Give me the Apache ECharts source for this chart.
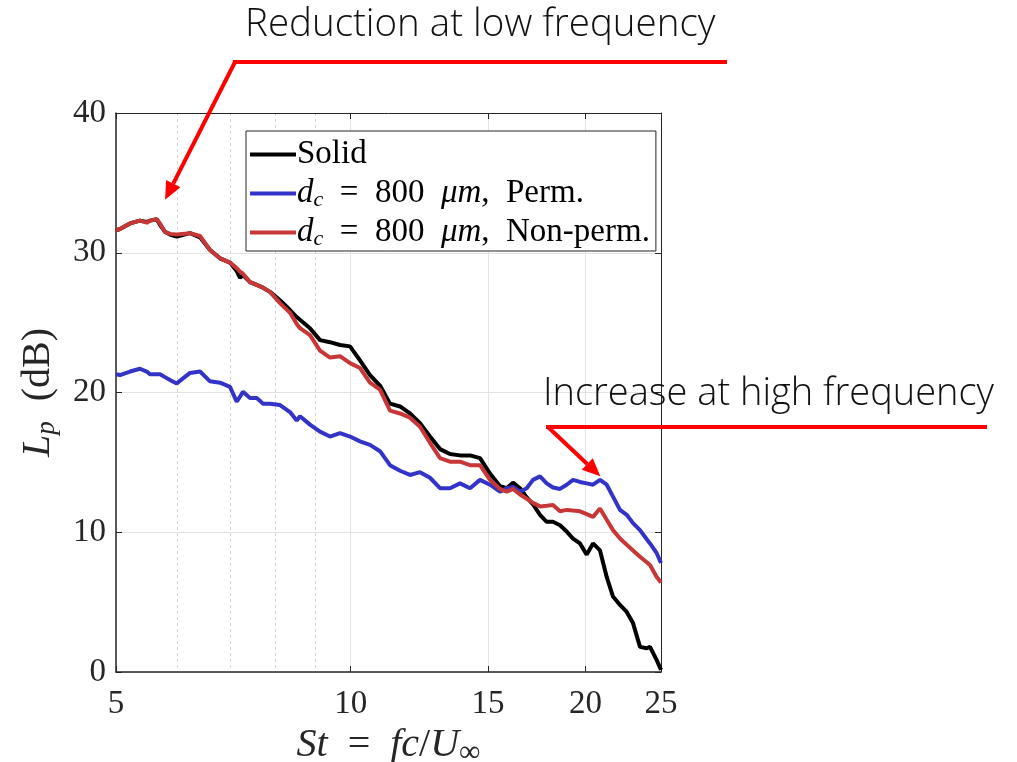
<!DOCTYPE html>
<html><head><meta charset="utf-8">
<script src="https://cdn.jsdelivr.net/npm/echarts@6/dist/echarts.min.js"></script>
<style>html,body{margin:0;padding:0;background:#fff}#c{width:1017px;height:762px}</style>
</head><body><div id="c"></div>
<script>
// ---- data ----
const St = [5.000,5.059,5.211,5.367,5.475,5.528,5.639,5.694,5.778,5.864,
 5.982,6.221,6.408,6.600,6.798,7.001,7.141,7.211,7.275,7.427,
 7.576,7.650,7.718,7.879,8.115,8.359,8.526,8.609,8.867,9.133,
 9.407,9.689,9.979,10.278,10.586,10.903,11.230,11.567,11.913,12.270,
 12.638,13.017,13.407,13.809,14.223,14.649,15.088,15.540,15.851,16.148,
 16.486,16.815,17.131,17.489,17.838,18.173,18.553,18.923,19.279,19.682,
 20.075,20.452,20.879,21.296,21.696,22.149,22.592,23.016,23.497,23.967,
 24.201,24.685,25.0];
const solid = [31.6,31.7,32.1,32.3,32.2,32.3,32.4,32.0,31.5,31.3,
 31.15,31.4,31.1,30.2,29.6,29.3,28.7,28.2,28.4,27.9,
 27.7,27.6,27.5,27.2,26.6,25.9,25.4,25.2,24.6,23.75,
 23.6,23.4,23.3,22.3,21.25,20.5,19.2,19.0,18.5,17.8,
 16.85,15.95,15.6,15.5,15.5,15.3,14.2,13.3,13.15,13.55,
 13.15,12.5,12.0,11.25,10.75,10.75,10.5,10.05,9.55,9.2,
 8.4,9.2,8.7,6.8,5.4,4.8,4.3,3.5,1.8,1.7,
 1.8,0.85,0.15];
const perm = [21.3,21.25,21.5,21.7,21.5,21.3,21.3,21.3,21.1,20.9,
 20.65,21.4,21.5,20.8,20.7,20.4,19.35,19.7,20.05,19.6,
 19.6,19.4,19.2,19.2,19.1,18.6,18.0,18.3,17.7,17.2,
 16.85,17.1,16.85,16.5,16.25,15.8,14.8,14.4,14.1,14.3,
 13.9,13.15,13.15,13.5,13.15,13.75,13.4,12.9,13.15,13.25,
 12.9,13.15,13.75,14.0,13.5,13.2,13.1,13.4,13.75,13.6,
 13.5,13.4,13.75,13.4,12.55,11.6,11.25,10.65,10.15,9.5,
 9.2,8.5,7.8];
const nonPerm = [31.6,31.7,32.1,32.3,32.15,32.3,32.4,32.1,31.5,31.35,
 31.3,31.4,31.2,30.2,29.6,29.3,28.9,28.65,28.5,27.9,
 27.7,27.6,27.5,27.2,26.4,25.7,24.9,24.6,24.1,23.0,
 22.5,22.6,22.1,21.75,20.7,20.2,18.7,18.5,18.2,17.55,
 16.4,15.3,15.05,15.05,14.8,14.8,13.75,13.1,12.9,13.1,
 12.7,12.4,12.1,11.85,11.9,11.95,11.5,11.6,11.55,11.5,
 11.3,11.1,11.7,10.9,10.15,9.55,9.1,8.7,8.25,7.85,
 7.65,6.8,6.4];
const xTicks = [5, 10, 15, 20, 25];
const xMinorTicks = [6, 7, 8, 9];
const yTicks = [0, 10, 20, 30, 40];
const seriesNames = ['Solid', 'Perm', 'NonPerm'];
const legendLabels = {
  Solid: 'Solid',
  Perm: '{i|d}{sub|c}  =  800  {i|μm},  Perm.',
  NonPerm: '{i|d}{sub|c}  =  800  {i|μm},  Non-perm.'
};
const annoTexts = ['Reduction at low frequency', 'Increase at high frequency'];
const annoTips = [[5.78, 33.8], [20.9, 14.0]];

// ---- chart ----
const SERIF = 'Liberation Serif';
const chart = echarts.init(document.getElementById('c'));
const pairs = v => St.map((x, i) => [x, v[i]]);
const colors = ['#000000', '#3333c8', '#c83737'];
const valuesList = [solid, perm, nonPerm];

const option = {
  animation: false,
  backgroundColor: '#fff',
  grid: { left: 116, right: 356, top: 113, bottom: 90, show: false, containLabel: false, outerBoundsMode: 'none' },
  legend: {
    data: seriesNames,
    orient: 'vertical',
    left: 246, top: 131,
    backgroundColor: '#fff',
    borderColor: '#262626', borderWidth: 1, borderRadius: 0,
    padding: [6, 6, 1, 4],
    itemGap: 4,
    itemWidth: 46, itemHeight: 4,
    icon: 'rect',
    formatter: n => legendLabels[n],
    textStyle: {
      fontFamily: SERIF, fontSize: 33, color: '#000', lineHeight: 35, padding: [0, 0, 0, -4],
      rich: {
        i: { fontFamily: SERIF, fontStyle: 'italic', fontSize: 33, color: '#000', lineHeight: 35 },
        sub: { fontFamily: SERIF, fontStyle: 'italic', fontSize: 22, color: '#000', verticalAlign: 'bottom', lineHeight: 35, padding: [13, 0, 0, 0] }
      }
    }
  },
  xAxis: [{
    type: 'log', logBase: 10, min: 5, max: 25,
    name: '{i|St}  =  {i|fc}/{i|U}{sub|∞}',
    nameLocation: 'middle', nameGap: 44,
    nameTextStyle: { fontFamily: SERIF, fontSize: 40, color: '#262626', rich: {
      i: { fontFamily: SERIF, fontStyle: 'italic', fontSize: 40, color: '#262626' },
      sub: { fontFamily: SERIF, fontSize: 30, color: '#262626', verticalAlign: 'bottom', padding: [14, 0, 0, 0] } } },
    axisLine: { show: true, lineStyle: { color: '#262626', width: 1.5 } },
    axisTick: { show: true, inside: true, length: 6, customValues: xTicks, lineStyle: { color: '#262626' } },
    axisLabel: { customValues: xTicks, fontFamily: SERIF, fontSize: 33, color: '#262626', margin: 16, formatter: v => String(Math.round(v)) },
    splitLine: { show: true, lineStyle: { color: '#e3e3e3', width: 1 } }
  }, {
    type: 'log', logBase: 10, min: 5, max: 25, position: 'bottom',
    axisLine: { show: false },
    axisTick: { show: false, customValues: xMinorTicks },
    axisLabel: { show: false, customValues: xMinorTicks },
    splitLine: { show: true, lineStyle: { color: '#d4d4d4', width: 1, type: [3, 3] } }
  }, {
    type: 'log', logBase: 10, min: 5, max: 25, position: 'top',
    axisLine: { show: true, lineStyle: { color: '#262626', width: 1 } },
    axisTick: { show: true, inside: true, length: 6, customValues: xTicks, lineStyle: { color: '#262626' } },
    axisLabel: { show: false, customValues: xTicks },
    splitLine: { show: false }
  }],
  yAxis: [{
    type: 'value', min: 0, max: 40, interval: 10,
    name: '{i|L}{sub|p}  (dB)',
    nameLocation: 'middle', nameGap: 56,
    nameTextStyle: { fontFamily: SERIF, fontSize: 40, color: '#262626', rich: {
      i: { fontFamily: SERIF, fontStyle: 'italic', fontSize: 40, color: '#262626' },
      sub: { fontFamily: SERIF, fontStyle: 'italic', fontSize: 27, color: '#262626', verticalAlign: 'bottom', padding: [16, 0, 0, 0] } } },
    axisLine: { show: true, lineStyle: { color: '#262626', width: 1.5 } },
    axisTick: { show: true, inside: true, length: 6, lineStyle: { color: '#262626' } },
    axisLabel: { fontFamily: SERIF, fontSize: 33, color: '#262626', margin: 10 },
    splitLine: { show: true, lineStyle: { color: '#e3e3e3', width: 1 } }
  }, {
    type: 'value', min: 0, max: 40, interval: 10, position: 'right',
    axisLine: { show: true, lineStyle: { color: '#262626', width: 1 } },
    axisTick: { show: true, inside: true, length: 6, lineStyle: { color: '#262626' } },
    axisLabel: { show: false },
    splitLine: { show: false }
  }],
  series: seriesNames.map((n, k) => ({
    name: n, type: 'line', showSymbol: false, symbol: 'none',
    data: pairs(valuesList[k]),
    lineStyle: { color: colors[k], width: 4 },
    itemStyle: { color: colors[k] },
    z: 3 + k
  }))
};
chart.setOption(option);

// ---- annotations (arrows point to data locations) ----
function arrow(from, tip) {
  const dx = tip[0] - from[0], dy = tip[1] - from[1];
  const L = Math.hypot(dx, dy), ux = dx / L, uy = dy / L;
  const head = 18, hw = 8;
  const bx = tip[0] - ux * head, by = tip[1] - uy * head;
  return [
    { type: 'line', shape: { x1: from[0], y1: from[1], x2: bx, y2: by }, style: { stroke: '#ff0000', lineWidth: 4 }, z: 20 },
    { type: 'polygon', shape: { points: [tip, [bx - uy * hw, by + ux * hw], [bx + uy * hw, by - ux * hw]] }, style: { fill: '#ff0000' }, z: 20 }
  ];
}
const tip1 = chart.convertToPixel({ gridIndex: 0 }, annoTips[0]);
const tip2 = chart.convertToPixel({ gridIndex: 0 }, annoTips[1]);
const g = [];
g.push({ type: 'text', left: 245, top: 6, style: { text: annoTexts[0], font: '300 38.5px "Open Sans"', fill: '#111' }, z: 20 });
g.push({ type: 'line', shape: { x1: 233, y1: 62, x2: 727, y2: 62 }, style: { stroke: '#ff0000', lineWidth: 4 }, z: 20 });
g.push(...arrow([235, 62], tip1));
g.push({ type: 'text', left: 543, top: 375, style: { text: annoTexts[1], font: '300 38px "Open Sans"', fill: '#111' }, z: 20 });
g.push({ type: 'line', shape: { x1: 546, y1: 427, x2: 987, y2: 427 }, style: { stroke: '#ff0000', lineWidth: 4 }, z: 20 });
g.push(...arrow([548, 427], tip2));
chart.setOption({ graphic: g });
</script>
</body></html>
